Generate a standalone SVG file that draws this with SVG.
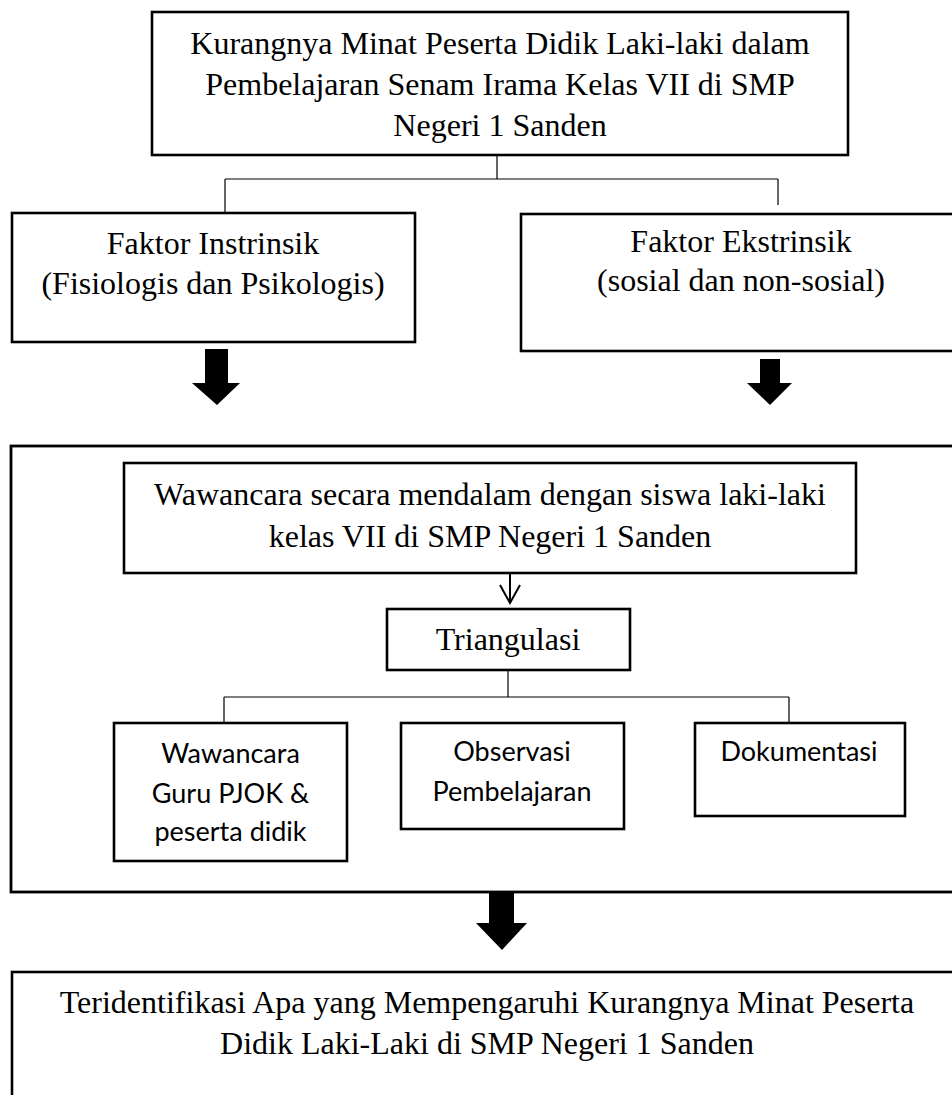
<svg xmlns="http://www.w3.org/2000/svg" width="952" height="1095" viewBox="0 0 952 1095">
<style>
.box{fill:#fff;stroke:#000;stroke-width:2.6}
.big{fill:none;stroke:#000;stroke-width:2.8}
.conn{fill:none;stroke:#000;stroke-width:1.2}
.serif{font-family:"Liberation Serif","Times New Roman",serif;font-size:32px;fill:#000;text-anchor:middle}
.sans{font-family:Lato,"Open Sans",sans-serif;font-size:27px;fill:#000;text-anchor:middle}
.fat{fill:#000;stroke:none}
</style>
<rect width="952" height="1095" fill="#fff"/>
<g id="connectors">
<path class="conn" d="M497 155V179M225 179H778M225 179V213M778 179V205"/>
<path d="M510 573V603M500 585L510 603L520 585" fill="none" stroke="#000" stroke-width="2"/>
<path class="conn" d="M508 670V697M224 697H789M224 697V722M789 697V722"/>
<path class="fat" d="M205 349H228V383H240L217 405L192 383H205Z"/>
<path class="fat" d="M760 359H780V383H792L770 405L747 383H760Z"/>
<path class="fat" d="M489 893H514V923H527L502 950L476 923H489Z"/>
</g>
<g id="node-top">
<rect class="box" x="152" y="12" width="696" height="143"/>
<text class="serif" x="500" y="54">Kurangnya Minat Peserta Didik Laki-laki dalam</text>
<text class="serif" x="500" y="95">Pembelajaran Senam Irama Kelas VII di SMP</text>
<text class="serif" x="500" y="136">Negeri 1 Sanden</text>
</g>
<g id="node-intrinsik">
<rect class="box" x="12" y="213" width="403" height="129"/>
<text class="serif" x="213" y="254">Faktor Instrinsik</text>
<text class="serif" x="213" y="294">(Fisiologis dan Psikologis)</text>
</g>
<g id="node-ekstrinsik">
<rect class="box" x="521" y="214" width="445" height="137"/>
<text class="serif" x="741" y="252">Faktor Ekstrinsik</text>
<text class="serif" x="741" y="291">(sosial dan non-sosial)</text>
</g>
<g id="node-metode">
<rect class="big" x="11" y="446" width="960" height="446"/>
</g>
<g id="node-wawancara-siswa">
<rect class="box" x="124" y="463" width="732" height="110"/>
<text class="serif" x="490" y="505">Wawancara secara mendalam dengan siswa laki-laki</text>
<text class="serif" x="490" y="547">kelas VII di SMP Negeri 1 Sanden</text>
</g>
<g id="node-triangulasi">
<rect class="box" x="387" y="609" width="243" height="61"/>
<text class="serif" x="508" y="650">Triangulasi</text>
</g>
<g id="node-wawancara-guru">
<rect class="box" x="114" y="723" width="233" height="138"/>
<text class="sans" x="230.5" y="763">Wawancara</text>
<text class="sans" x="230.5" y="803">Guru PJOK &amp;</text>
<text class="sans" x="230.5" y="841">peserta didik</text>
</g>
<g id="node-observasi">
<rect class="box" x="401" y="723" width="223" height="106"/>
<text class="sans" x="512" y="761">Observasi</text>
<text class="sans" x="512" y="801">Pembelajaran</text>
</g>
<g id="node-dokumentasi">
<rect class="box" x="695" y="723" width="210" height="93"/>
<text class="sans" x="799" y="761">Dokumentasi</text>
</g>
<g id="node-hasil">
<rect class="box" x="12" y="972" width="960" height="140"/>
<text class="serif" x="487" y="1013">Teridentifikasi Apa yang Mempengaruhi Kurangnya Minat Peserta</text>
<text class="serif" x="487" y="1054">Didik Laki-Laki di SMP Negeri 1 Sanden</text>
</g>
</svg>
